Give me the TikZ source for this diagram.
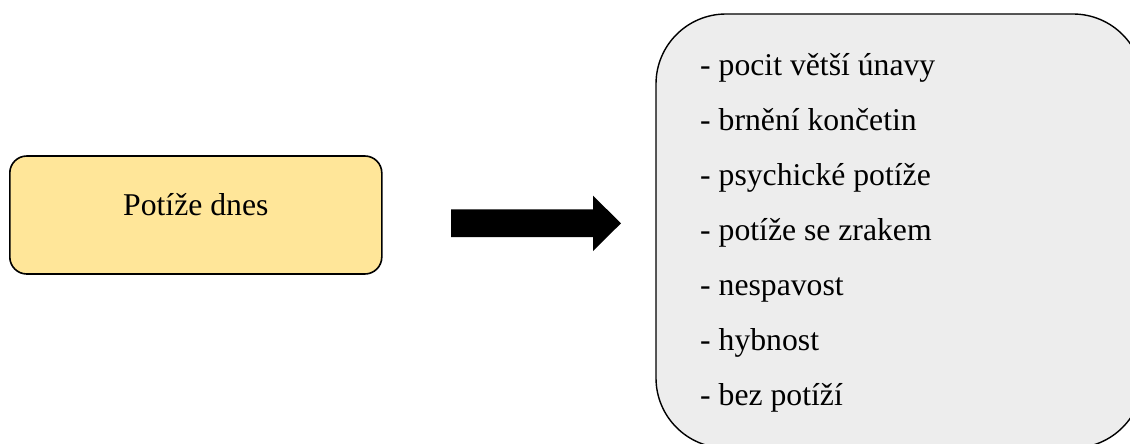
\documentclass[tikz,border=0pt]{standalone}
\usepackage{fontspec}
\setmainfont{Liberation Serif}
\definecolor{boxyellow}{HTML}{FFE699}
\definecolor{boxgray}{HTML}{EDEDED}
\begin{document}
\begin{tikzpicture}[x=1pt,y=-1pt,
  every node/.style={font=\fontsize{31.7}{38}\selectfont},
  topicbox/.style={draw=black, line width=1.6pt, fill=boxyellow,
    rounded corners=17pt, minimum width=372pt, minimum height=118pt, inner sep=0pt},
  listbox/.style={draw=black, line width=1.4pt, fill=boxgray,
    rounded corners=70pt, minimum width=487pt, minimum height=434pt, inner sep=0pt},
  listitem/.style={anchor=base west, inner sep=0pt},
  blockarrow/.style={fill=black}
]
  \useasboundingbox (0,0) rectangle (1130,444);
  \clip (0,0) rectangle (1130,444);

  % left topic box
  \node[topicbox] (today) at (195.8,215) {};
  \node[anchor=base, inner sep=0pt] (todaytext) at (today.center) {Potíže dnes};

  % block arrow
  \fill[blockarrow] (451,209.3) -- (593,209.3) -- (593,195.7) -- (621,223.3)
    -- (593,251) -- (593,237.2) -- (451,237.2) -- cycle;

  % right list box
  \node[listbox] (list) at (899.5,231) {};
  \foreach \i/\t in {0/{- pocit větší únavy}, 1/{- brnění končetin},
      2/{- psychické potíže}, 3/{- potíže se zrakem}, 4/{- nespavost},
      5/{- hybnost}, 6/{- bez potíží}} {
    \node[listitem] (item\i) at (700,75+55*\i) {\t};
  }
\end{tikzpicture}
\end{document}
